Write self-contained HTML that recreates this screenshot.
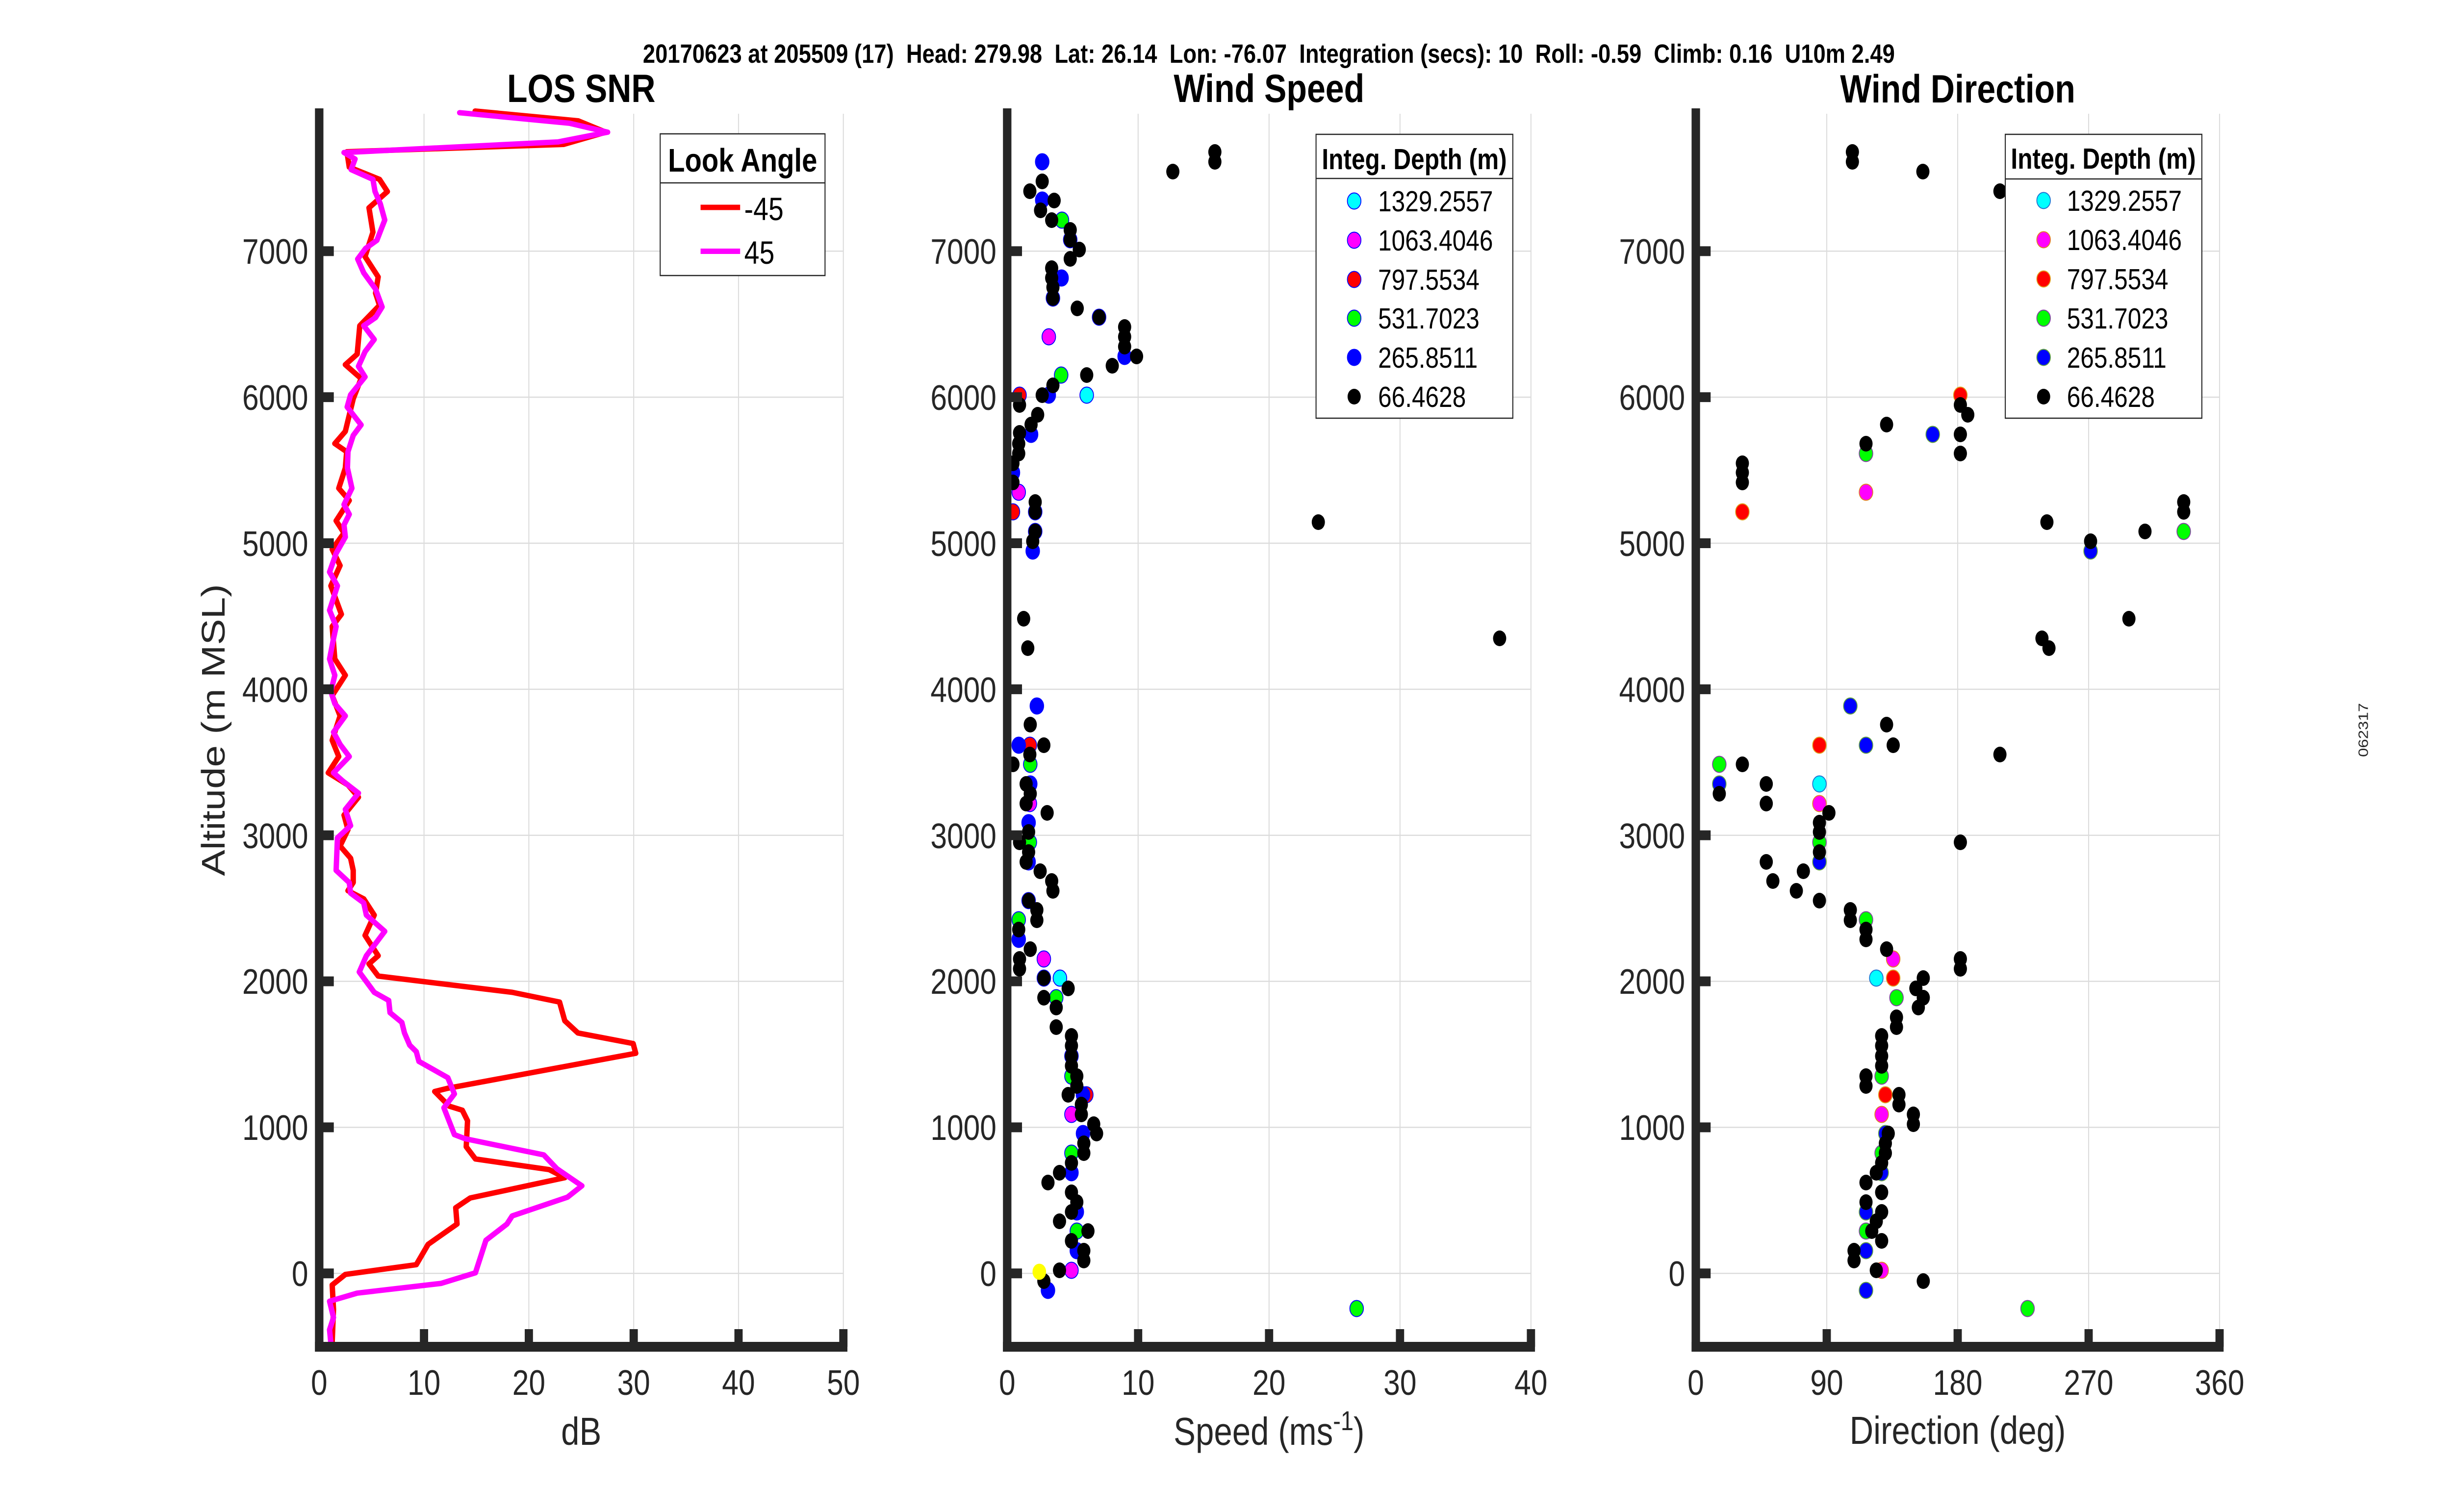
<!DOCTYPE html>
<html>
<head>
<meta charset="utf-8">
<style>
html,body{margin:0;padding:0;background:#fff;width:100%;height:100%;overflow:hidden;}
svg{display:block;width:100vw;height:100vh;}
text{font-family:"Liberation Sans",Arial,sans-serif;}
.tk{font-size:72px;fill:#262626;}
.ax{fill:#262626;}
.gr{stroke:#dcdcdc;stroke-width:2.5;}
</style>
</head>
<body>
<svg viewBox="0 0 5950 3084" preserveAspectRatio="none" xmlns="http://www.w3.org/2000/svg">
<rect x="0" y="0" width="5950" height="3084" fill="#fff"/>

<!-- Super title -->
<text x="1560" y="128" font-size="54" font-weight="bold" fill="#000" style="white-space:pre" textLength="3038" lengthAdjust="spacing">20170623 at 205509 (17)  Head: 279.98  Lat: 26.14  Lon: -76.07  Integration (secs): 10  Roll: -0.59  Climb: 0.16  U10m 2.49</text>

<!-- Side label -->
<text transform="translate(5746,1489) rotate(-90)" text-anchor="middle" font-size="33" fill="#262626">062317</text>

<!-- ================= PANEL 1 ================= -->
<g>
<g class="gr">
<line x1="1028.9" y1="232" x2="1028.9" y2="2747"/>
<line x1="1283.3" y1="232" x2="1283.3" y2="2747"/>
<line x1="1537.7" y1="232" x2="1537.7" y2="2747"/>
<line x1="1792.1" y1="232" x2="1792.1" y2="2747"/>
<line x1="2046.5" y1="232" x2="2046.5" y2="2747"/>
<line x1="774.5" y1="2597.3" x2="2046.5" y2="2597.3"/>
<line x1="774.5" y1="2299.4" x2="2046.5" y2="2299.4"/>
<line x1="774.5" y1="2001.6" x2="2046.5" y2="2001.6"/>
<line x1="774.5" y1="1703.7" x2="2046.5" y2="1703.7"/>
<line x1="774.5" y1="1405.9" x2="2046.5" y2="1405.9"/>
<line x1="774.5" y1="1108.0" x2="2046.5" y2="1108.0"/>
<line x1="774.5" y1="810.1" x2="2046.5" y2="810.1"/>
<line x1="774.5" y1="512.3" x2="2046.5" y2="512.3"/>
</g>
<g transform="matrix(0.63776 0 0 1.6582 720 200)" fill="none" stroke-linejoin="round" stroke-linecap="round">
<polyline vector-effect="non-scaling-stroke" stroke="#ff0000" stroke-width="11" points="679,16 1071,28 1176,42 1016,57 191,66 200,85 315,100 345,115 275,135 290,165 260,195 310,220 300,240 315,255 240,280 230,315 185,328 245,345 215,370 200,390 185,410 145,425 190,435 185,455 160,480 200,495 150,520 180,535 135,555 165,575 130,600 170,635 135,650 145,690 185,710 135,735 165,760 135,790 160,810 120,830 195,845 235,860 180,882 195,900 165,920 205,935 215,950 215,965 195,975 255,985 295,1005 260,1030 310,1055 275,1065 310,1080 820,1100 1000,1112 1020,1135 1070,1150 1280,1163 1290,1175 575,1218 525,1222 580,1240 630,1245 650,1258 645,1290 680,1305 960,1318 1020,1328 660,1353 605,1365 610,1385 500,1410 455,1435 185,1447 135,1460 140,1490 135,1530"/>
<polyline vector-effect="non-scaling-stroke" stroke="#ff00ff" stroke-width="11" points="620,18 1038,31 1183,42 994,54 180,67 222,75 207,88 290,100 298,115 318,130 335,150 305,175 262,185 232,198 255,215 300,235 325,257 300,270 255,280 295,297 260,312 235,330 260,343 205,365 192,380 245,402 215,415 195,435 193,455 210,480 180,500 200,512 180,525 185,540 150,560 125,583 155,600 125,630 150,650 140,665 125,690 145,710 130,730 145,745 185,760 140,780 165,795 200,810 140,830 175,840 235,855 185,875 205,895 155,910 150,950 200,965 205,978 255,990 265,1005 335,1025 265,1055 238,1075 295,1100 350,1110 355,1125 400,1137 410,1150 430,1165 455,1173 465,1185 575,1205 600,1225 560,1242 600,1275 640,1280 940,1300 990,1317 1085,1338 1030,1352 820,1375 800,1385 720,1405 680,1445 550,1458 230,1470 125,1480 140,1500 125,1515 130,1532"/>
</g>
<rect class="ax" x="764.3" y="221" width="20.5" height="2536"/>
<rect class="ax" x="764.3" y="2737" width="1292" height="20"/>
<g class="ax">
<rect x="774" y="2587.3" width="36" height="20"/>
<rect x="774" y="2289.4" width="36" height="20"/>
<rect x="774" y="1991.6" width="36" height="20"/>
<rect x="774" y="1693.7" width="36" height="20"/>
<rect x="774" y="1395.9" width="36" height="20"/>
<rect x="774" y="1098.0" width="36" height="20"/>
<rect x="774" y="800.1" width="36" height="20"/>
<rect x="774" y="502.3" width="36" height="20"/>
<rect x="1018.9" y="2711" width="20" height="36"/>
<rect x="1273.3" y="2711" width="20" height="36"/>
<rect x="1527.7" y="2711" width="20" height="36"/>
<rect x="1782.1" y="2711" width="20" height="36"/>
<rect x="2036.5" y="2711" width="20" height="36"/>
</g>
<g class="tk" text-anchor="end">
<text x="748" y="2623">0</text>
<text x="748" y="2325">1000</text>
<text x="748" y="2027">2000</text>
<text x="748" y="1730">3000</text>
<text x="748" y="1432">4000</text>
<text x="748" y="1134">5000</text>
<text x="748" y="836">6000</text>
<text x="748" y="538">7000</text>
</g>
<g class="tk" text-anchor="middle">
<text x="774.5" y="2845">0</text>
<text x="1028.9" y="2845">10</text>
<text x="1283.3" y="2845">20</text>
<text x="1537.7" y="2845">30</text>
<text x="1792.1" y="2845">40</text>
<text x="2046.5" y="2845">50</text>
</g>
<text x="1410.5" y="2947" text-anchor="middle" font-size="80" fill="#262626">dB</text>
<text transform="translate(545,1489) rotate(-90)" text-anchor="middle" font-size="80" fill="#262626">Altitude (m MSL)</text>
<text x="1410.5" y="208" text-anchor="middle" font-size="81" font-weight="bold" fill="#000">LOS SNR</text>
<rect x="1602" y="273" width="400" height="289" fill="#fff" stroke="#262626" stroke-width="2.5"/>
<line x1="1602" y1="373" x2="2002" y2="373" stroke="#262626" stroke-width="2.5"/>
<text x="1802" y="350" text-anchor="middle" font-size="67" font-weight="bold" fill="#000">Look Angle</text>
<line x1="1700" y1="423" x2="1796" y2="423" stroke="#ff0000" stroke-width="11"/>
<line x1="1700" y1="512.5" x2="1796" y2="512.5" stroke="#ff00ff" stroke-width="11"/>
<text x="1806" y="449" font-size="66" fill="#000">-45</text>
<text x="1806" y="538" font-size="66" fill="#000">45</text>
</g>

<!-- ================= PANEL 2 ================= -->
<g>
<g class="gr">
<line x1="2761.75" y1="232" x2="2761.75" y2="2747"/>
<line x1="3079.5" y1="232" x2="3079.5" y2="2747"/>
<line x1="3397.25" y1="232" x2="3397.25" y2="2747"/>
<line x1="3715" y1="232" x2="3715" y2="2747"/>
<line x1="2444" y1="2597.3" x2="3715" y2="2597.3"/>
<line x1="2444" y1="2299.4" x2="3715" y2="2299.4"/>
<line x1="2444" y1="2001.6" x2="3715" y2="2001.6"/>
<line x1="2444" y1="1703.7" x2="3715" y2="1703.7"/>
<line x1="2444" y1="1405.9" x2="3715" y2="1405.9"/>
<line x1="2444" y1="1108.0" x2="3715" y2="1108.0"/>
<line x1="2444" y1="810.1" x2="3715" y2="810.1"/>
<line x1="2444" y1="512.3" x2="3715" y2="512.3"/>
</g>
<g stroke="#0000ff" stroke-width="2">
<g fill="#00ffff"><circle cx="2637" cy="806" r="16.5"/><circle cx="2572" cy="1995" r="16.5"/></g>
<g fill="#ff00ff"><circle cx="2545" cy="687" r="16.5"/><circle cx="2472" cy="1004" r="16.5"/><circle cx="2499" cy="1639" r="16.5"/><circle cx="2533" cy="1956" r="16.5"/><circle cx="2600" cy="2273" r="16.5"/><circle cx="2600" cy="2591" r="16.5"/></g>
<g fill="#ff0000"><circle cx="2474" cy="806" r="16.5"/><circle cx="2458" cy="1044" r="16.5"/><circle cx="2499" cy="1520" r="16.5"/><circle cx="2636" cy="2233" r="16.5"/></g>
<g fill="#00ff00"><circle cx="2577" cy="449" r="16.5"/><circle cx="2575" cy="765" r="16.5"/><circle cx="2512" cy="1084" r="16.5"/><circle cx="2500" cy="1559" r="16.5"/><circle cx="2499" cy="1718" r="16.5"/><circle cx="2472" cy="1876" r="16.5"/><circle cx="2563" cy="2035" r="16.5"/><circle cx="2600" cy="2195" r="16.5"/><circle cx="2600" cy="2352" r="16.5"/><circle cx="2613" cy="2511" r="16.5"/><circle cx="3292" cy="2669" r="16.5"/></g>
<g fill="#0000ff"><circle cx="2529" cy="330" r="16.5"/><circle cx="2529" cy="408" r="16.5"/><circle cx="2597" cy="489" r="16.5"/><circle cx="2576" cy="567" r="16.5"/><circle cx="2555" cy="608" r="16.5"/><circle cx="2667" cy="647" r="16.5"/><circle cx="2729" cy="727" r="16.5"/><circle cx="2545" cy="806" r="16.5"/><circle cx="2502" cy="886" r="16.5"/><circle cx="2458" cy="964" r="16.5"/><circle cx="2512" cy="1044" r="16.5"/><circle cx="2506" cy="1124" r="16.5"/><circle cx="2516" cy="1440" r="16.5"/><circle cx="2472" cy="1520" r="16.5"/><circle cx="2500" cy="1599" r="16.5"/><circle cx="2496" cy="1678" r="16.5"/><circle cx="2496" cy="1758" r="16.5"/><circle cx="2496" cy="1837" r="16.5"/><circle cx="2472" cy="1916" r="16.5"/><circle cx="2533" cy="1995" r="16.5"/><circle cx="2600" cy="2154" r="16.5"/><circle cx="2628" cy="2233" r="16.5"/><circle cx="2628" cy="2312" r="16.5"/><circle cx="2600" cy="2392" r="16.5"/><circle cx="2613" cy="2472" r="16.5"/><circle cx="2613" cy="2551" r="16.5"/><circle cx="2543" cy="2632" r="16.5"/></g>
</g>
<g fill="#000">
<circle cx="2529" cy="370" r="16"/><circle cx="2499" cy="390" r="16"/><circle cx="2558" cy="409" r="16"/><circle cx="2525" cy="429" r="16"/><circle cx="2552" cy="449" r="16"/><circle cx="2597" cy="469" r="16"/><circle cx="2597" cy="489" r="16"/><circle cx="2619" cy="509" r="16"/><circle cx="2597" cy="528" r="16"/><circle cx="2552" cy="547" r="16"/><circle cx="2552" cy="567" r="16"/><circle cx="2555" cy="586" r="16"/><circle cx="2555" cy="608" r="16"/><circle cx="2614" cy="629" r="16"/><circle cx="2667" cy="647" r="16"/><circle cx="2729" cy="667" r="16"/><circle cx="2729" cy="687" r="16"/><circle cx="2729" cy="707" r="16"/><circle cx="2758" cy="727" r="16"/><circle cx="2699" cy="746" r="16"/><circle cx="2637" cy="765" r="16"/><circle cx="2555" cy="786" r="16"/><circle cx="2529" cy="806" r="16"/><circle cx="2474" cy="826" r="16"/><circle cx="2518" cy="846" r="16"/><circle cx="2502" cy="866" r="16"/><circle cx="2474" cy="883" r="16"/><circle cx="2472" cy="905" r="16"/><circle cx="2472" cy="925" r="16"/><circle cx="2458" cy="945" r="16"/><circle cx="2458" cy="984" r="16"/><circle cx="2512" cy="1024" r="16"/><circle cx="2512" cy="1044" r="16"/><circle cx="2512" cy="1084" r="16"/><circle cx="2506" cy="1104" r="16"/><circle cx="2846" cy="350" r="16"/><circle cx="2948" cy="310" r="16"/><circle cx="2948" cy="330" r="16"/><circle cx="3199" cy="1065" r="16"/><circle cx="3639" cy="1302" r="16"/><circle cx="2484" cy="1262" r="16"/><circle cx="2494" cy="1322" r="16"/><circle cx="2500" cy="1478" r="16"/>
<circle cx="2533" cy="1520" r="16"/><circle cx="2499" cy="1539" r="16"/><circle cx="2458" cy="1559" r="16"/><circle cx="2490" cy="1599" r="16"/><circle cx="2500" cy="1619" r="16"/><circle cx="2490" cy="1639" r="16"/><circle cx="2541" cy="1658" r="16"/><circle cx="2496" cy="1697" r="16"/><circle cx="2474" cy="1718" r="16"/><circle cx="2496" cy="1738" r="16"/><circle cx="2490" cy="1758" r="16"/><circle cx="2524" cy="1777" r="16"/><circle cx="2552" cy="1797" r="16"/><circle cx="2555" cy="1817" r="16"/><circle cx="2496" cy="1837" r="16"/><circle cx="2516" cy="1856" r="16"/><circle cx="2516" cy="1877" r="16"/><circle cx="2472" cy="1896" r="16"/><circle cx="2500" cy="1936" r="16"/><circle cx="2474" cy="1956" r="16"/><circle cx="2474" cy="1976" r="16"/><circle cx="2533" cy="1995" r="16"/><circle cx="2592" cy="2016" r="16"/><circle cx="2533" cy="2035" r="16"/><circle cx="2563" cy="2055" r="16"/><circle cx="2563" cy="2095" r="16"/><circle cx="2600" cy="2113" r="16"/><circle cx="2600" cy="2133" r="16"/><circle cx="2600" cy="2154" r="16"/><circle cx="2600" cy="2174" r="16"/><circle cx="2613" cy="2195" r="16"/><circle cx="2613" cy="2215" r="16"/><circle cx="2592" cy="2233" r="16"/><circle cx="2624" cy="2253" r="16"/><circle cx="2624" cy="2273" r="16"/><circle cx="2654" cy="2293" r="16"/><circle cx="2661" cy="2312" r="16"/><circle cx="2630" cy="2332" r="16"/><circle cx="2630" cy="2352" r="16"/><circle cx="2600" cy="2372" r="16"/><circle cx="2571" cy="2392" r="16"/><circle cx="2543" cy="2412" r="16"/><circle cx="2600" cy="2432" r="16"/><circle cx="2613" cy="2452" r="16"/><circle cx="2600" cy="2472" r="16"/><circle cx="2571" cy="2491" r="16"/><circle cx="2640" cy="2511" r="16"/><circle cx="2600" cy="2531" r="16"/><circle cx="2630" cy="2551" r="16"/><circle cx="2630" cy="2571" r="16"/><circle cx="2571" cy="2591" r="16"/><circle cx="2533" cy="2613" r="16"/>
</g>
<circle cx="2522" cy="2594" r="16.5" fill="#ffff00"/>
<rect class="ax" x="2433.8" y="221" width="20.5" height="2536"/>
<rect class="ax" x="2433.8" y="2737" width="1291" height="20"/>
<g class="ax">
<rect x="2444" y="2587.3" width="36" height="20"/>
<rect x="2444" y="2289.4" width="36" height="20"/>
<rect x="2444" y="1991.6" width="36" height="20"/>
<rect x="2444" y="1693.7" width="36" height="20"/>
<rect x="2444" y="1395.9" width="36" height="20"/>
<rect x="2444" y="1098.0" width="36" height="20"/>
<rect x="2444" y="800.1" width="36" height="20"/>
<rect x="2444" y="502.3" width="36" height="20"/>
<rect x="2751.75" y="2711" width="20" height="36"/>
<rect x="3069.5" y="2711" width="20" height="36"/>
<rect x="3387.25" y="2711" width="20" height="36"/>
<rect x="3705" y="2711" width="20" height="36"/>
</g>
<g class="tk" text-anchor="end">
<text x="2418" y="2623">0</text>
<text x="2418" y="2325">1000</text>
<text x="2418" y="2027">2000</text>
<text x="2418" y="1730">3000</text>
<text x="2418" y="1432">4000</text>
<text x="2418" y="1134">5000</text>
<text x="2418" y="836">6000</text>
<text x="2418" y="538">7000</text>
</g>
<g class="tk" text-anchor="middle">
<text x="2444" y="2845">0</text>
<text x="2761.75" y="2845">10</text>
<text x="3079.5" y="2845">20</text>
<text x="3397.25" y="2845">30</text>
<text x="3715" y="2845">40</text>
</g>
<text x="3079.5" y="2947" text-anchor="middle" font-size="80" fill="#262626">Speed (ms<tspan dy="-30" font-size="56">-1</tspan><tspan dy="30">)</tspan></text>
<text x="3079.5" y="208" text-anchor="middle" font-size="81" font-weight="bold" fill="#000">Wind Speed</text>
<rect x="3193.5" y="274" width="477.5" height="579" fill="#fff" stroke="#262626" stroke-width="2.5"/>
<line x1="3193.5" y1="364" x2="3671" y2="364" stroke="#262626" stroke-width="2.5"/>
<text x="3432" y="345" text-anchor="middle" font-size="59" font-weight="bold" fill="#000">Integ. Depth (m)</text>
<g stroke="#0000ff" stroke-width="2">
<circle cx="3286" cy="410" r="16.5" fill="#00ffff"/>
<circle cx="3286" cy="490" r="16.5" fill="#ff00ff"/>
<circle cx="3286" cy="570" r="16.5" fill="#ff0000"/>
<circle cx="3286" cy="649" r="16.5" fill="#00ff00"/>
<circle cx="3286" cy="729" r="16.5" fill="#0000ff"/>
</g>
<circle cx="3286" cy="809" r="16" fill="#000"/>
<g font-size="59" fill="#000">
<text x="3344" y="431">1329.2557</text>
<text x="3344" y="511">1063.4046</text>
<text x="3344" y="591">797.5534</text>
<text x="3344" y="670">531.7023</text>
<text x="3344" y="750">265.8511</text>
<text x="3344" y="830">66.4628</text>
</g>
</g>

<!-- ================= PANEL 3 ================= -->
<g>
<g class="gr">
<line x1="4432.75" y1="232" x2="4432.75" y2="2747"/>
<line x1="4750.5" y1="232" x2="4750.5" y2="2747"/>
<line x1="5068.25" y1="232" x2="5068.25" y2="2747"/>
<line x1="5386" y1="232" x2="5386" y2="2747"/>
<line x1="4115" y1="2597.3" x2="5386" y2="2597.3"/>
<line x1="4115" y1="2299.4" x2="5386" y2="2299.4"/>
<line x1="4115" y1="2001.6" x2="5386" y2="2001.6"/>
<line x1="4115" y1="1703.7" x2="5386" y2="1703.7"/>
<line x1="4115" y1="1405.9" x2="5386" y2="1405.9"/>
<line x1="4115" y1="1108.0" x2="5386" y2="1108.0"/>
<line x1="4115" y1="810.1" x2="5386" y2="810.1"/>
<line x1="4115" y1="512.3" x2="5386" y2="512.3"/>
</g>
<g stroke-width="2">
<g fill="#00ffff" stroke="#1e6fd0"><circle cx="4415" cy="1599" r="16.5"/><circle cx="4553" cy="1995" r="16.5"/></g>
<g fill="#ff00ff" stroke="#e08020"><circle cx="4528" cy="1004" r="16.5"/><circle cx="4415" cy="1639" r="16.5"/><circle cx="4594" cy="1956" r="16.5"/><circle cx="4566" cy="2273" r="16.5"/><circle cx="4566" cy="2591" r="16.5"/></g>
<g fill="#ff0000" stroke="#e0a020"><circle cx="4757" cy="806" r="16.5"/><circle cx="4228" cy="1044" r="16.5"/><circle cx="4415" cy="1520" r="16.5"/><circle cx="4594" cy="1995" r="16.5"/><circle cx="4575" cy="2233" r="16.5"/></g>
<g fill="#00ff00" stroke="#8040a0"><circle cx="4528" cy="925" r="16.5"/><circle cx="5299" cy="1084" r="16.5"/><circle cx="4172" cy="1559" r="16.5"/><circle cx="4415" cy="1718" r="16.5"/><circle cx="4528" cy="1876" r="16.5"/><circle cx="4602" cy="2035" r="16.5"/><circle cx="4566" cy="2195" r="16.5"/><circle cx="4566" cy="2352" r="16.5"/><circle cx="4528" cy="2511" r="16.5"/><circle cx="4920" cy="2669" r="16.5"/></g>
<g fill="#0000ff" stroke="#60a040"><circle cx="4690" cy="886" r="16.5"/><circle cx="5073" cy="1124" r="16.5"/><circle cx="4490" cy="1440" r="16.5"/><circle cx="4528" cy="1520" r="16.5"/><circle cx="4172" cy="1599" r="16.5"/><circle cx="4415" cy="1758" r="16.5"/><circle cx="4575" cy="2312" r="16.5"/><circle cx="4566" cy="2392" r="16.5"/><circle cx="4528" cy="2472" r="16.5"/><circle cx="4528" cy="2551" r="16.5"/><circle cx="4528" cy="2632" r="16.5"/></g>
</g>
<g fill="#000">
<circle cx="4495" cy="310" r="16"/><circle cx="4495" cy="330" r="16"/><circle cx="4666" cy="350" r="16"/><circle cx="4853" cy="390" r="16"/><circle cx="4757" cy="826" r="16"/><circle cx="4775" cy="846" r="16"/><circle cx="4757" cy="886" r="16"/><circle cx="4757" cy="925" r="16"/><circle cx="4578" cy="866" r="16"/><circle cx="4528" cy="905" r="16"/><circle cx="4228" cy="945" r="16"/><circle cx="4228" cy="964" r="16"/><circle cx="4228" cy="984" r="16"/><circle cx="4967" cy="1065" r="16"/><circle cx="5073" cy="1104" r="16"/><circle cx="5205" cy="1084" r="16"/><circle cx="5299" cy="1024" r="16"/><circle cx="5299" cy="1044" r="16"/><circle cx="5166" cy="1262" r="16"/><circle cx="4955" cy="1302" r="16"/><circle cx="4972" cy="1322" r="16"/><circle cx="4578" cy="1478" r="16"/>
<circle cx="4594" cy="1520" r="16"/><circle cx="4853" cy="1539" r="16"/><circle cx="4228" cy="1559" r="16"/><circle cx="4172" cy="1619" r="16"/><circle cx="4286" cy="1599" r="16"/><circle cx="4286" cy="1639" r="16"/><circle cx="4438" cy="1658" r="16"/><circle cx="4415" cy="1678" r="16"/><circle cx="4415" cy="1697" r="16"/><circle cx="4415" cy="1738" r="16"/><circle cx="4757" cy="1718" r="16"/><circle cx="4286" cy="1758" r="16"/><circle cx="4376" cy="1777" r="16"/><circle cx="4302" cy="1797" r="16"/><circle cx="4359" cy="1817" r="16"/><circle cx="4415" cy="1837" r="16"/><circle cx="4490" cy="1856" r="16"/><circle cx="4490" cy="1877" r="16"/><circle cx="4528" cy="1896" r="16"/><circle cx="4528" cy="1916" r="16"/><circle cx="4578" cy="1936" r="16"/><circle cx="4757" cy="1956" r="16"/><circle cx="4757" cy="1976" r="16"/><circle cx="4667" cy="1995" r="16"/><circle cx="4649" cy="2016" r="16"/><circle cx="4667" cy="2035" r="16"/><circle cx="4655" cy="2055" r="16"/><circle cx="4602" cy="2075" r="16"/><circle cx="4602" cy="2095" r="16"/><circle cx="4566" cy="2113" r="16"/><circle cx="4566" cy="2133" r="16"/><circle cx="4566" cy="2154" r="16"/><circle cx="4566" cy="2174" r="16"/><circle cx="4528" cy="2195" r="16"/><circle cx="4528" cy="2215" r="16"/><circle cx="4608" cy="2233" r="16"/><circle cx="4608" cy="2253" r="16"/><circle cx="4643" cy="2273" r="16"/><circle cx="4643" cy="2293" r="16"/><circle cx="4582" cy="2312" r="16"/><circle cx="4575" cy="2332" r="16"/><circle cx="4575" cy="2352" r="16"/><circle cx="4566" cy="2372" r="16"/><circle cx="4553" cy="2392" r="16"/><circle cx="4528" cy="2412" r="16"/><circle cx="4566" cy="2432" r="16"/><circle cx="4528" cy="2452" r="16"/><circle cx="4566" cy="2472" r="16"/><circle cx="4553" cy="2491" r="16"/><circle cx="4542" cy="2511" r="16"/><circle cx="4566" cy="2531" r="16"/><circle cx="4499" cy="2551" r="16"/><circle cx="4499" cy="2571" r="16"/><circle cx="4553" cy="2591" r="16"/><circle cx="4667" cy="2613" r="16"/>
</g>
<rect class="ax" x="4104.8" y="221" width="20.5" height="2536"/>
<rect class="ax" x="4104.8" y="2737" width="1291" height="20"/>
<g class="ax">
<rect x="4115" y="2587.3" width="36" height="20"/>
<rect x="4115" y="2289.4" width="36" height="20"/>
<rect x="4115" y="1991.6" width="36" height="20"/>
<rect x="4115" y="1693.7" width="36" height="20"/>
<rect x="4115" y="1395.9" width="36" height="20"/>
<rect x="4115" y="1098.0" width="36" height="20"/>
<rect x="4115" y="800.1" width="36" height="20"/>
<rect x="4115" y="502.3" width="36" height="20"/>
<rect x="4422.75" y="2711" width="20" height="36"/>
<rect x="4740.5" y="2711" width="20" height="36"/>
<rect x="5058.25" y="2711" width="20" height="36"/>
<rect x="5376" y="2711" width="20" height="36"/>
</g>
<g class="tk" text-anchor="end">
<text x="4089" y="2623">0</text>
<text x="4089" y="2325">1000</text>
<text x="4089" y="2027">2000</text>
<text x="4089" y="1730">3000</text>
<text x="4089" y="1432">4000</text>
<text x="4089" y="1134">5000</text>
<text x="4089" y="836">6000</text>
<text x="4089" y="538">7000</text>
</g>
<g class="tk" text-anchor="middle">
<text x="4115" y="2845">0</text>
<text x="4432.75" y="2845">90</text>
<text x="4750.5" y="2845">180</text>
<text x="5068.25" y="2845">270</text>
<text x="5386" y="2845">360</text>
</g>
<text x="4750.5" y="2945" text-anchor="middle" font-size="80" fill="#262626">Direction (deg)</text>
<text x="4750.5" y="209" text-anchor="middle" font-size="81" font-weight="bold" fill="#000">Wind Direction</text>
<rect x="4866" y="274" width="477" height="579" fill="#fff" stroke="#262626" stroke-width="2.5"/>
<line x1="4866" y1="365" x2="5343" y2="365" stroke="#262626" stroke-width="2.5"/>
<text x="5104" y="344" text-anchor="middle" font-size="59" font-weight="bold" fill="#000">Integ. Depth (m)</text>
<g stroke-width="2">
<circle cx="4959" cy="409" r="16.5" fill="#00ffff" stroke="#1e6fd0"/>
<circle cx="4959" cy="489" r="16.5" fill="#ff00ff" stroke="#e08020"/>
<circle cx="4959" cy="569" r="16.5" fill="#ff0000" stroke="#e0a020"/>
<circle cx="4959" cy="649" r="16.5" fill="#00ff00" stroke="#8040a0"/>
<circle cx="4959" cy="729" r="16.5" fill="#0000ff" stroke="#60a040"/>
</g>
<circle cx="4959" cy="809" r="16" fill="#000"/>
<g font-size="59" fill="#000">
<text x="5015.5" y="430">1329.2557</text>
<text x="5015.5" y="510">1063.4046</text>
<text x="5015.5" y="590">797.5534</text>
<text x="5015.5" y="670">531.7023</text>
<text x="5015.5" y="750">265.8511</text>
<text x="5015.5" y="830">66.4628</text>
</g>
</g>
</svg>
</body>
</html>
